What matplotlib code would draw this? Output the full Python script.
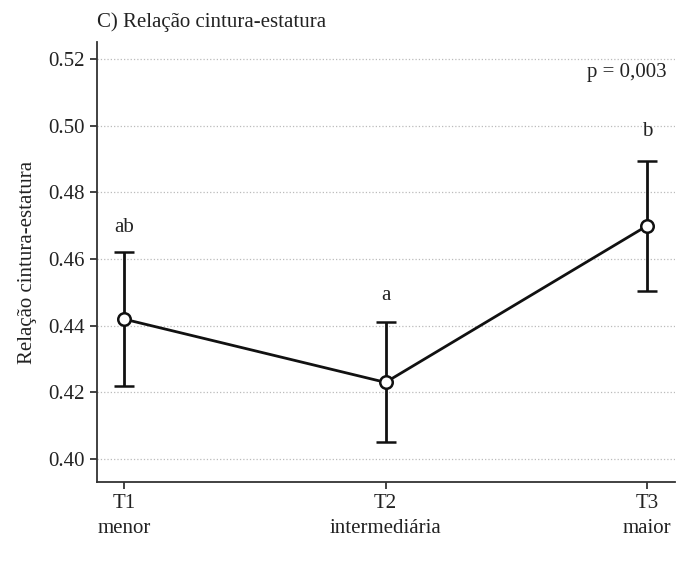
import matplotlib
matplotlib.use("Agg")
import matplotlib.pyplot as plt

# Dados
grupos = ["T1\nmenor", "T2\nintermediária", "T3\nmaior"]
medias = [0.442, 0.423, 0.470]
inferior = [0.422, 0.405, 0.4505]
superior = [0.462, 0.441, 0.4895]
letras = ["ab", "a", "b"]
letras_y = [0.4695, 0.4492, 0.4983]
yticks = [0.40, 0.42, 0.44, 0.46, 0.48, 0.50, 0.52]

plt.rcParams["font.family"] = ["Liberation Serif", "DejaVu Serif"]

fig = plt.figure(figsize=(6.89, 5.61), dpi=100)
ax = fig.add_axes([0.1408, 0.1408, 0.839, 0.784])

x = list(range(len(grupos)))
err_low = [m - l for m, l in zip(medias, inferior)]
err_high = [u - m for m, u in zip(medias, superior)]

ax.errorbar(x, medias, yerr=[err_low, err_high], color="#111111", lw=2,
            capsize=7.5, capthick=2, elinewidth=2, marker="o", markersize=9,
            markerfacecolor="white", markeredgecolor="#111111",
            markeredgewidth=1.8, zorder=3)

for xi, txt, yy in zip(x, letras, letras_y):
    ax.text(xi, yy, txt, ha="center", va="center", fontsize=15, color="#222222")

ax.text(0.985, 0.93, "p = 0,003", transform=ax.transAxes, ha="right",
        va="center", fontsize=15, color="#222222")

ax.set_xlim(-0.103, 2.107)
ax.set_ylim(0.3931, 0.5251)
ax.set_yticks(yticks)
ax.set_yticklabels([f"{v:.2f}" for v in yticks])
ax.set_xticks(x)
ax.set_xticklabels(grupos, linespacing=1.45)
ax.tick_params(axis="both", labelsize=15, colors="#222222", length=5, width=1.2)
ax.grid(axis="y", linestyle=":", color="#bbbbbb", linewidth=0.9)
ax.set_axisbelow(True)

for s in ["top", "right"]:
    ax.spines[s].set_visible(False)
for s in ["left", "bottom"]:
    ax.spines[s].set_linewidth(1.3)
    ax.spines[s].set_color("#333333")

ax.set_ylabel("Relação cintura-estatura", fontsize=15, color="#222222", labelpad=8)
fig.text(0.1408, 0.961, "C) Relação cintura-estatura", ha="left", va="center",
         fontsize=15, color="#222222")

fig.savefig("out.png", dpi=100)
